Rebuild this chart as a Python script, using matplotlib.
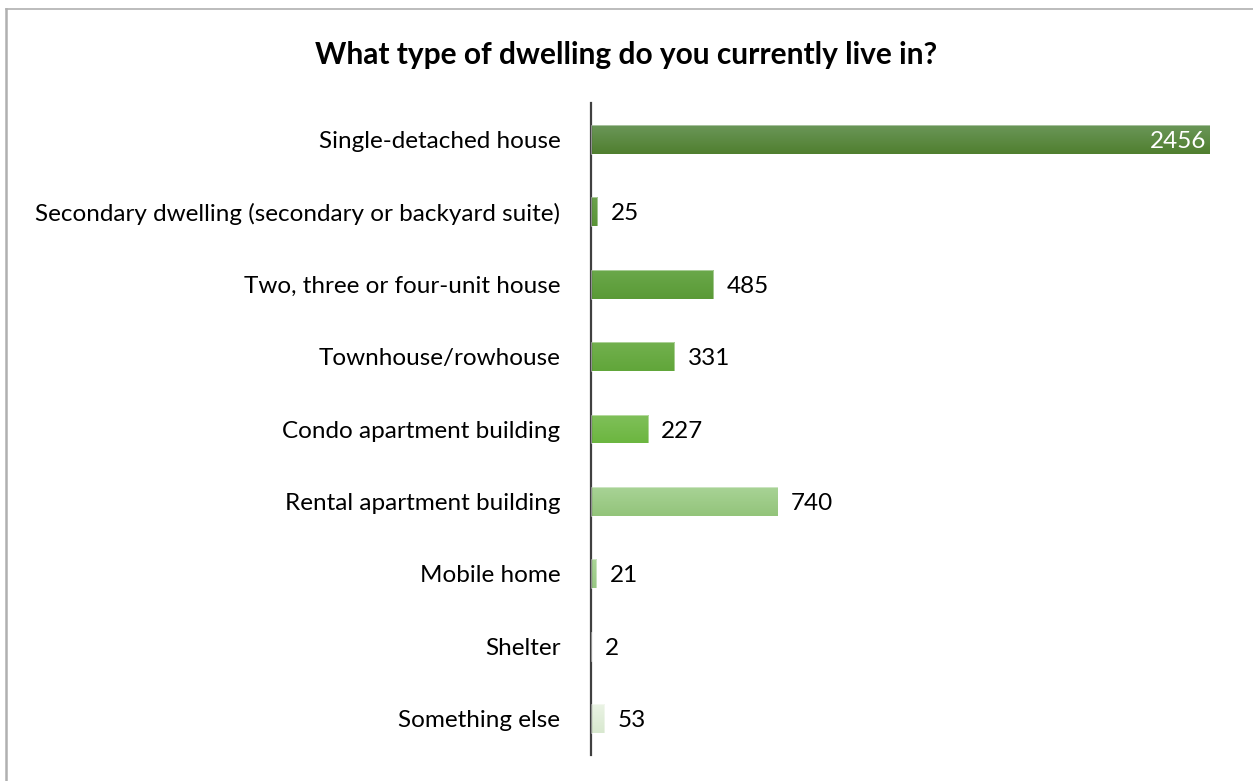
import numpy as np
import matplotlib
matplotlib.use("Agg")
import matplotlib.pyplot as plt
from matplotlib.colors import LinearSegmentedColormap
from matplotlib.lines import Line2D

categories = [
    "Single-detached house",
    "Secondary dwelling (secondary or backyard suite)",
    "Two, three or four-unit house",
    "Townhouse/rowhouse",
    "Condo apartment building",
    "Rental apartment building",
    "Mobile home",
    "Shelter",
    "Something else",
]
counts = [2456, 25, 485, 331, 227, 740, 21, 2, 53]
# (top, bottom) colours of each bar's vertical gradient
top_colors = ["#6a9658", "#6aa24c", "#6aa84a", "#72b04e", "#80c05a", "#a8d396", "#a9d496", "#b0d8a0", "#eaf3e4"]
bottom_colors = ["#507f2f", "#5a9436", "#5a9a36", "#61a63a", "#6cb640", "#93c47a", "#98c884", "#a0cc8a", "#d8e8cf"]
title = "What type of dwelling do you currently live in?"

plt.rcParams["font.family"] = ["Lato", "DejaVu Sans"]

W, H = 1253, 781
fig = plt.figure(figsize=(W / 100, H / 100), dpi=100)

# axes placed in pixel coordinates of the reference
left, right, top, bottom = 591, 1246, 103, 755
ax = fig.add_axes([left / W, 1 - bottom / H, (right - left) / W, (bottom - top) / H])

y = np.arange(len(categories))
xmax = 2456 * (right - left) / (1210 - left)

bars = ax.barh(y, counts, height=0.4, color="none", edgecolor="none")
grad = np.linspace(0, 1, 64).reshape(-1, 1)
for bar, c_top, c_bot in zip(bars, top_colors, bottom_colors):
    cmap = LinearSegmentedColormap.from_list("g", [c_top, c_bot])
    x0, y0 = bar.get_x(), bar.get_y()
    w, h = bar.get_width(), bar.get_height()
    im = ax.imshow(grad, cmap=cmap, aspect="auto", extent=(x0, x0 + w, y0 + h, y0),
                   zorder=2, interpolation="bilinear")
    im.set_clip_path(bar)
    ax.add_patch(plt.Rectangle((x0, y0), w, h, fill=False, edgecolor="#ffffff",
                               linewidth=0.6, alpha=0.5, zorder=3))

ax.set_xlim(0, xmax)
ax.set_ylim(len(categories) - 0.5, -0.5)

for yi, v in zip(y, counts):
    if v == max(counts):
        ax.text(v - xmax * 0.005, yi, f"{v}", va="center_baseline", ha="right",
                color="white", fontsize=17.5, zorder=4)
    else:
        ax.text(v + xmax * 0.02, yi, f"{v}", va="center_baseline", ha="left",
                color="black", fontsize=17.5, zorder=4)

ax.set_yticks(y)
ax.set_yticklabels(categories, fontsize=17.5, va="center_baseline")
ax.tick_params(axis="y", length=0, pad=22)
ax.set_xticks([])
for s in ["top", "right", "bottom"]:
    ax.spines[s].set_visible(False)
ax.spines["left"].set_color("#404040")
ax.spines["left"].set_linewidth(1.6)

fig.text(626 / W, 1 - 55 / H, title, ha="center", va="center",
         fontsize=21.5, fontweight="bold")

# outer chart border (cropped on right and bottom)
fig.add_artist(Line2D([6 / W, 1], [1 - 9 / H, 1 - 9 / H], transform=fig.transFigure,
                      color="#b0b0b0", linewidth=1.2))
fig.add_artist(Line2D([6 / W, 6 / W], [0, 1 - 9 / H], transform=fig.transFigure,
                      color="#b0b0b0", linewidth=1.8))

fig.savefig("out.png", dpi=100)
